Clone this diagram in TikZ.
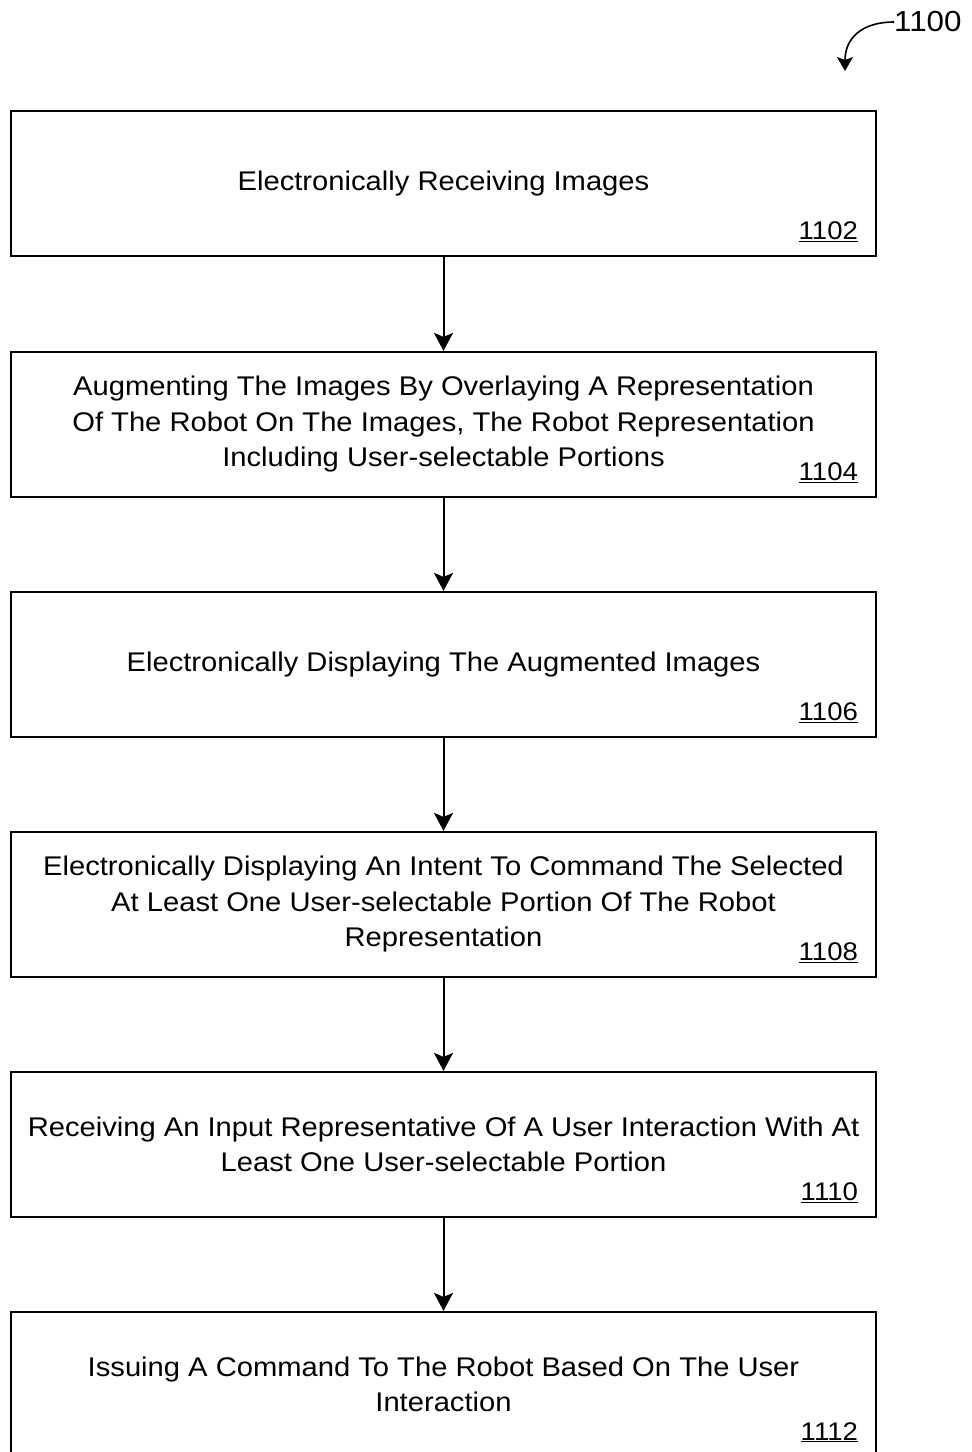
\documentclass[tikz,border=0pt]{standalone}
\usepackage{fontspec}
\setmainfont{Liberation Sans}[FakeStretch=1.08]
\usetikzlibrary{arrows.meta}
\tikzset{
  stepbox/.style={draw=black, line width=2.2pt, minimum width=865pt, minimum height=145pt, inner sep=0pt, align=center, font=\fontsize{27}{35.5}\selectfont},
  reflabel/.style={anchor=base east, inner sep=0pt, font=\fontsize{25.5}{28}\selectfont},
  flow/.style={line width=2pt, -{Stealth[length=18pt,width=19pt,inset=4pt]}},
}
\begin{document}
\begin{tikzpicture}[x=1pt,y=-1pt]
\useasboundingbox (0,0) rectangle (972,1452);
\node[stepbox] (b1) at (443.5,183.5) {Electronically Receiving Images};
\node[stepbox] (b2) at (443.5,424.5) {Augmenting The Images By Overlaying A Representation\\Of The Robot On The Images, The Robot Representation\\Including User-selectable Portions};
\node[stepbox] (b3) at (443.5,664.5) {Electronically Displaying The Augmented Images};
\node[stepbox] (b4) at (443.5,904.5) {Electronically Displaying An Intent To Command The Selected\\At Least One User-selectable Portion Of The Robot\\Representation};
\node[stepbox] (b5) at (443.5,1144.5) {Receiving An Input Representative Of A User Interaction With At\\Least One User-selectable Portion};
\node[stepbox] (b6) at (443.5,1384.5) {Issuing A Command To The Robot Based On The User\\Interaction};
\foreach \b/\t in {b1/1102,b2/1104,b3/1106,b4/1108,b5/1110,b6/1112}{
  \node[reflabel] (l\b) at ([xshift=-19pt,yshift=18pt]\b.south east) {\underline{\t}};
}
\draw[flow] (b1) -- (b2);
\draw[flow] (b2) -- (b3);
\draw[flow] (b3) -- (b4);
\draw[flow] (b4) -- (b5);
\draw[flow] (b5) -- (b6);
\node[anchor=west, inner sep=0pt, font=\fontsize{29}{30}\selectfont] (fig) at (894,22) {1100};
\coordinate (tip) at (845,71);
\draw[line width=1.6pt, -{Stealth[length=14pt,width=16pt,inset=3pt]}] (fig.west) .. controls (862,22) and (845,38) .. (tip);
\end{tikzpicture}
\end{document}
